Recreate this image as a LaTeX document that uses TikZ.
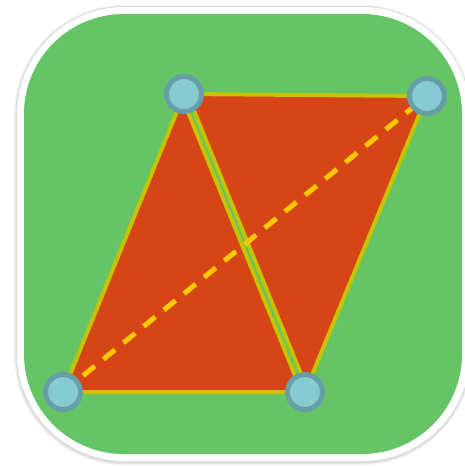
\documentclass[tikz,border=0pt]{standalone}
\usetikzlibrary{calc}
\definecolor{tile}{HTML}{64C466}
\definecolor{face}{HTML}{D64515}
\definecolor{rim}{HTML}{C6C300}
\definecolor{diag}{HTML}{FFC800}
\definecolor{dotin}{HTML}{86CBD2}
\definecolor{dotout}{HTML}{679FA8}
\tikzset{
  tfface/.style   = {fill=face, draw=rim, line width=4pt, line join=round},
  tfseam/.style   = {draw=rim, line width=10pt, line cap=round},
  tfgap/.style    = {draw=tile, line width=2.2pt},
  tfdiag/.style   = {draw=diag, line width=5pt, dash pattern=on 15pt off 11pt},
  tfvert/.style   = {circle, draw=dotout, fill=dotin, line width=5pt,
                     minimum size=35pt, inner sep=0pt},
}

\begin{document}
\begin{tikzpicture}[x=1pt, y=-1pt]
\useasboundingbox (0,0) rectangle (465,467);

% tile with soft shadow
\fill[black, opacity=0.06, rounded corners=110pt] (14,5) rectangle (472,465);
\fill[black, opacity=0.08, rounded corners=109pt] (15.5,6) rectangle (471,463.5);
\fill[white, rounded corners=108pt] (17,7) rectangle (470,461);
\fill[tile, rounded corners=100pt] (24,14) rectangle (462,454);

\coordinate (tl) at (184,94);
\coordinate (tr) at (427,96);
\coordinate (bl) at (63,392);
\coordinate (br) at (305,392);

% the two triangles
\draw[tfface] (tl) -- (bl) -- (br) -- cycle;
\draw[tfface] (tl) -- (tr) -- (br) -- cycle;
\draw[tfseam] (tl) -- (br);
\draw[tfgap]  (tl) -- (br);

% diagonal
\draw[tfdiag] (bl) -- (tr);

\node[tfvert] (ntl) at (tl) {};
\node[tfvert] (ntr) at (tr) {};
\node[tfvert] (nbl) at (bl) {};
\node[tfvert] (nbr) at (br) {};
\end{tikzpicture}
\end{document}
